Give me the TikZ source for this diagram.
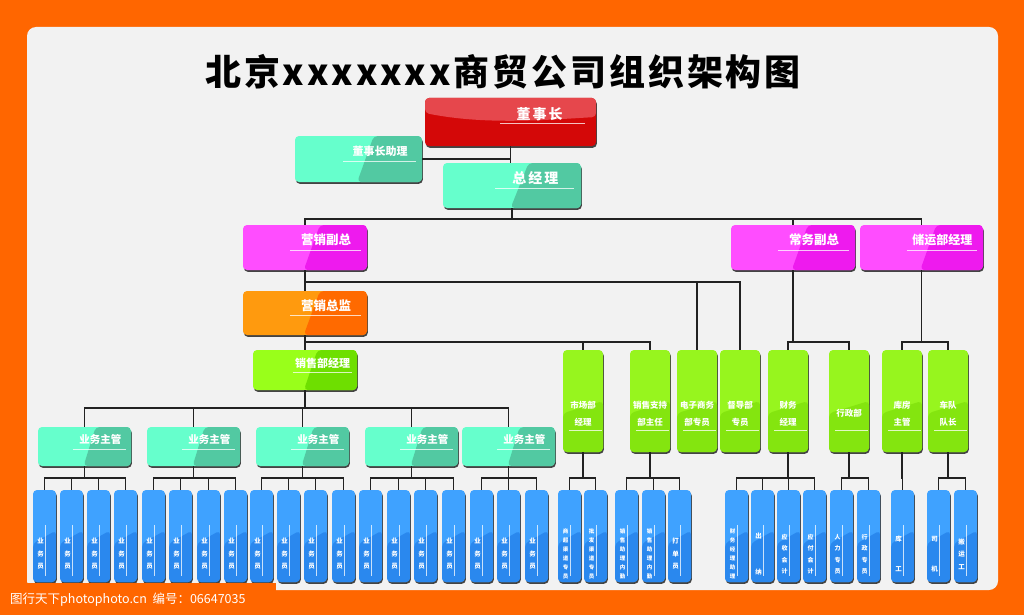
\documentclass[tikz,border=0pt]{standalone}
\usepackage{fontspec}
\setmainfont{Noto Sans CJK SC}
\newfontfamily\titlefont{Noto Sans CJK SC Black}[LetterSpace=8]
\usetikzlibrary{calc,shadows}

\definecolor{bgorange}{HTML}{FF6600}
\definecolor{panelgray}{HTML}{F2F2F2}
\definecolor{linegray}{HTML}{222222}
\definecolor{redA}{HTML}{D40808}
\definecolor{redB}{HTML}{E6474C}
\definecolor{aquaA}{HTML}{66FFCC}
\definecolor{aquaB}{HTML}{52C9A2}
\definecolor{magA}{HTML}{FF4DFF}
\definecolor{magB}{HTML}{EE1AEE}
\definecolor{orgA}{HTML}{FF9A0E}
\definecolor{orgB}{HTML}{FF6A00}
\definecolor{limeA}{HTML}{99FF1A}
\definecolor{limeB}{HTML}{6EDF00}
\definecolor{leafA}{HTML}{97F51E}
\definecolor{leafB}{HTML}{84E50F}
\definecolor{bluA}{HTML}{3FA2FF}
\definecolor{bluB}{HTML}{2A88EE}

\tikzset{
  link/.style={draw=linegray, line width=1.5pt},
  card/.style={rounded corners=4pt, inner sep=0pt, draw=none,
    drop shadow={shadow xshift=0.8pt, shadow yshift=-1.8pt, fill=black!85, opacity=0.85}},
  hcard/.style={card, fill=#1A, path picture={
      \coordinate (nw) at (path picture bounding box.north west);
      \coordinate (se) at (path picture bounding box.south east);
      \fill[#1B] ($(nw|-se)!0.49!(se)$) -- ($(nw)!0.62!(nw-|se)$) -- (nw-|se) -- (se) -- cycle;
      \coordinate (ul) at ($(nw)!0.56!(nw|-se)$);
      \coordinate (ur) at ($(nw-|se)!0.56!(se)$);
      \draw[white, opacity=0.75, line width=0.6pt] ($(ul)!0.38!(ur)$) -- ($(ul)!0.95!(ur)$);}},
  redcard/.style={card, fill=redA, path picture={
      \coordinate (nw) at (path picture bounding box.north west);
      \coordinate (se) at (path picture bounding box.south east);
      \fill[redB] (nw) -- ($(nw)+(0,15)$) .. controls ($(nw)+(60,27)$) and ($(nw)+(120,22)$) .. ($(nw-|se)+(0,19)$) -- (nw-|se) -- cycle;
      \draw[white, opacity=0.75, line width=0.6pt] ($(nw)+(75,25)$) -- ($(nw)+(160,25)$);}},
  gcard/.style={card, fill=leafA, minimum width=40pt, minimum height=102pt, path picture={
      \coordinate (nw) at (path picture bounding box.north west);
      \coordinate (se) at (path picture bounding box.south east);
      \fill[leafB] ($(nw)!0.62!(nw|-se)$) -- ($(nw-|se)!0.5!(se)$) -- (se) -- (nw|-se) -- cycle;
      \coordinate (gl) at ($(nw)!0.79!(nw|-se)$);
      \coordinate (gr) at ($(nw-|se)!0.79!(se)$);
      \draw[white, opacity=0.75, line width=0.5pt] ($(gl)!0.15!(gr)$) -- ($(gl)!0.97!(gr)$);}},
  bcard/.style={card, fill=bluA, minimum width=23pt, minimum height=92pt, path picture={
      \coordinate (nw) at (path picture bounding box.north west);
      \coordinate (se) at (path picture bounding box.south east);
      \fill[bluB] ($(nw)!0.58!(nw|-se)$) -- ($(nw-|se)!0.44!(se)$) -- (se) -- (nw|-se) -- cycle;
      \coordinate (vt) at ($(nw)!0.55!(nw-|se)$);
      \coordinate (vb) at ($(nw|-se)!0.55!(se)$);
      \draw[white, opacity=0.75, line width=0.5pt] ($(vt)!0.38!(vb)$) -- ($(vt)!0.93!(vb)$);}},
  cardtext/.style={text=white, inner sep=0pt},
  depttext/.style={text=white, inner sep=0pt, align=center, font=\bfseries\fontsize{8.5}{17}\selectfont},
  stafftext/.style={text=white, inner sep=0pt, align=center}
}

% name, x1, y1, x2, y2, style, text, font size
\newcommand{\orgcard}[8]{%
  \node[#6, minimum width={(#4-#2)*1pt}, minimum height={(#5-#3)*1pt}] (#1) at ({(#2+#4)/2},{(#3+#5)/2}) {};
  \node[cardtext, font=\bfseries\fontsize{#8}{#8}\selectfont] (#1-t) at ({#2+0.67*(#4-#2)},{#3+0.33*(#5-#3)}) {#7};
}
% name, x1, text
\newcommand{\dept}[3]{%
  \node[gcard] (#1) at ({#2+20},401) {};
  \node[depttext] (#1-t) at ({#2+20},413.5) {#3};
}
% [font], name, x1, text
\newcommand{\staff}[4][\fontsize{6.5}{12.5}\selectfont]{%
  \node[bcard] (#2) at ({#3+11.5},536) {};
  \node[stafftext, font=\bfseries#1] (#2-t) at ({#3+7.5},554) {#4};
}

\begin{document}
\begin{tikzpicture}[x=1pt, y=-1pt]
\useasboundingbox (0,0) rectangle (1024,615);
\fill[bgorange] (0,0) rectangle (1024,615);
\fill[panelgray, rounded corners=9pt] (27,27) rectangle (998,590);

\node[font=\titlefont\fontsize{36}{40}\selectfont] (title) at (503,72) {北京xxxxxxx商贸公司组织架构图};

% management
\orgcard{dsz}{425}{98}{596}{146}{redcard}{董\hspace{2pt}事\hspace{2pt}长}{14}
\orgcard{dszzl}{295}{136}{422}{182}{hcard=aqua}{董事长助理}{11}
\orgcard{zjl}{443}{163}{581}{208}{hcard=aqua}{总\hspace{2pt}经\hspace{2pt}理}{14}
\orgcard{yxfz}{243}{225}{367}{270}{hcard=mag}{营销副总}{12.5}
\orgcard{cwfz}{731}{225}{855}{270}{hcard=mag}{常务副总}{12.5}
\orgcard{cyjl}{860}{225}{983}{270}{hcard=mag}{储运部经理}{12}
\orgcard{yxzj}{243}{291}{367}{335}{hcard=org}{营销总监}{12.5}
\orgcard{xsjl}{253}{350}{357}{390}{hcard=lime}{销售部经理}{11}
\foreach \x [count=\i] in {38,147,256,365,462}{
  \orgcard{yz\i}{\x}{427}{\x+93}{466}{hcard=aqua}{业务主管}{10.5}
}

% departments
\dept{scb}{563}{市场部\\经理}
\dept{xszc}{630}{销售支持\\部主任}
\dept{dzsw}{677}{电子商务\\部专员}
\dept{ddb}{720}{督导部\\专员}
\dept{cwjl}{768}{财务\\经理}
\dept{xzb}{829}{行政部}
\dept{kfzg}{882}{库房\\主管}
\dept{cddz}{928}{车队\\队长}

% staff
\foreach \x [count=\i] in {33,60,87,114,142,169,197,224,250,277,304,332,359,387,414,442,470,497,525}{
  \staff{yw\i}{\x}{业\\务\\员}
}
\staff[\fontsize{5.5}{9}\selectfont]{sc1}{558}{商\\超\\渠\\道\\专\\员}
\staff[\fontsize{5.5}{9}\selectfont]{sc2}{584}{批\\发\\渠\\道\\专\\员}
\staff[\fontsize{5.5}{9}\selectfont]{zc1}{615}{销\\售\\助\\理\\内\\勤}
\staff[\fontsize{5.5}{9}\selectfont]{zc2}{642}{销\\售\\助\\理\\内\\勤}
\staff{zc3}{668}{打\\单\\员}
\staff[\fontsize{5.5}{9}\selectfont]{cw1}{725}{财\\务\\经\\理\\助\\理}
\staff{cw2}{751}{出\\[24pt]纳}
\staff[\fontsize{6}{11.5}\selectfont]{cw3}{777}{应\\收\\会\\计}
\staff[\fontsize{6}{11.5}\selectfont]{cw4}{803}{应\\付\\会\\计}
\staff[\fontsize{6}{11.5}\selectfont]{xz1}{830}{人\\力\\专\\员}
\staff[\fontsize{6}{11.5}\selectfont]{xz2}{857}{行\\政\\专\\员}
\staff{kg}{891}{库\\[17pt]工}
\staff{sj}{927}{司\\[17pt]机}
\staff{byg}{954}{搬\\运\\工}

% connectors
\coordinate (midbar) at (0,342);
\coordinate (lowbar) at (0,478);
\draw[link] (dsz.south) -- (dsz.south |- zjl.north);
\draw[link] (dszzl.east) -- (dszzl.east -| dsz.south);
\foreach \c in {yxfz,cwfz,cyjl}
  \draw[link] (zjl.south) -- ++(0,11) -| (\c.north);
\foreach \c in {yxzj,dzsw,ddb}
  \draw[link] (yxfz.south) -- ++(0,12) -| (\c.north);
\foreach \c in {xsjl,scb,xszc}
  \draw[link] (yxzj.south) -- (yxzj.south |- midbar) -| (\c.north);
\foreach \c in {cwjl,xzb}
  \draw[link] (cwfz.south) -- (cwfz.south |- midbar) -| (\c.north);
\foreach \c in {kfzg,cddz}
  \draw[link] (cyjl.south) -- (cyjl.south |- midbar) -| (\c.north);
\foreach \i in {1,...,5}
  \draw[link] (xsjl.south) -- ++(0,18) -| (yz\i.north);
\foreach \p/\a/\b in {1/1/4,2/5/8,3/9/12,4/13/16,5/17/19}
  \foreach \i in {\a,...,\b}
    \draw[link] (yz\p.south) -- (yz\p.south |- lowbar) -| (yw\i.north);
\foreach \p/\c in {scb/sc1,scb/sc2,xszc/zc1,xszc/zc2,xszc/zc3,cwjl/cw1,cwjl/cw2,cwjl/cw3,cwjl/cw4,xzb/xz1,xzb/xz2,kfzg/kg,cddz/sj,cddz/byg}
  \draw[link] (\p.south) -- (\p.south |- lowbar) -| (\c.north);

% watermark band
\fill[bgorange] (0,583) rectangle (276,615);
\node[text=white, anchor=west, inner sep=0pt, font=\fontsize{12.5}{14}\selectfont] (mark) at (10,600) {图行天下photophoto.cn\ \ 编号：06647035};
\end{tikzpicture}
\end{document}
